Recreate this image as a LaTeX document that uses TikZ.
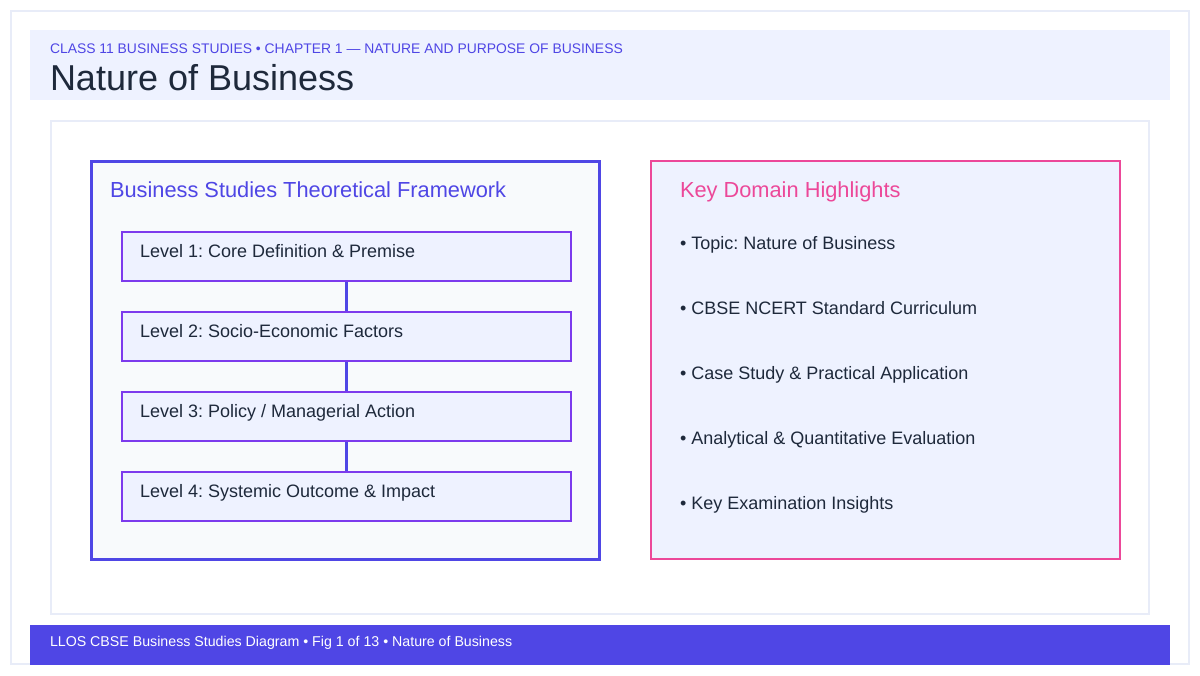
\documentclass[tikz,border=0pt]{standalone}
\usepackage{fontspec}
\setmainfont{Liberation Sans}
\frenchspacing
\definecolor{indigo}{HTML}{4F46E5}
\definecolor{violetb}{HTML}{7C3AED}
\definecolor{pinkb}{HTML}{EC4899}
\definecolor{ink}{HTML}{1E293B}
\definecolor{paleblue}{HTML}{EEF2FF}
\definecolor{slatebg}{HTML}{F8FAFC}
\definecolor{frame}{HTML}{E8ECF8}
\newcommand{\fsz}[1]{\fontsize{\dimexpr #1pt*3/4\relax}{\dimexpr #1pt*9/10\relax}\selectfont\frenchspacing}
\tikzset{
  x=0.75pt, y=-0.75pt,
  txt/.style={anchor=base west, inner sep=0pt, outer sep=0pt},
  levelbox/.style={draw=violetb, line width=1.5pt, fill=paleblue, rectangle, minimum width=449*0.75pt, minimum height=49*0.75pt, inner sep=0pt, anchor=north west},
  leveltxt/.style={txt, text=ink, font=\fsz{18}},
  bullettxt/.style={txt, text=ink, font=\fsz{18}},
  link/.style={draw=indigo, line width=2.25pt},
}
\begin{document}
\begin{tikzpicture}
\useasboundingbox (0,0) rectangle (1200,675);
\fill[white] (0,0) rectangle (1200,675);
\draw[frame, line width=1.5pt] (11,11) rectangle (1189,664);
% header
\fill[paleblue] (30,30) rectangle (1170,100);
\node[txt, text=indigo, font=\fsz{13.9}] (sub) at (50,53) {CLASS 11 BUSINESS STUDIES • CHAPTER 1 — NATURE AND PURPOSE OF BUSINESS};
\node[txt, text=ink, font=\fsz{36}] (title) at (50,90) {Nature of Business};
% content frame
\draw[frame, line width=1.5pt, fill=white] (51,121) rectangle (1149,614);
% left panel
\draw[indigo, line width=2.25pt, fill=slatebg] (91,161) rectangle (599,559);
\node[txt, text=indigo, font=\fsz{21.8}] (lt) at (110,197) {Business Studies Theoretical Framework};
\node[levelbox] (l1) at (121,231) {};
\node[levelbox] (l2) at (121,311) {};
\node[levelbox] (l3) at (121,391) {};
\node[levelbox] (l4) at (121,471) {};
\node[leveltxt] (t1) at (140,257) {Level 1: Core Definition \& Premise};
\node[leveltxt] (t2) at (140,337) {Level 2: Socio-Economic Factors};
\node[leveltxt] (t3) at (140,417) {Level 3: Policy / Managerial Action};
\node[leveltxt] (t4) at (140,497) {Level 4: Systemic Outcome \& Impact};
\draw[link] (l1.south) -- (l2.north);
\draw[link] (l2.south) -- (l3.north);
\draw[link] (l3.south) -- (l4.north);
% right panel
\draw[pinkb, line width=1.5pt, fill=paleblue] (651,161) rectangle (1120,559);
\node[txt, text=pinkb, font=\fsz{21.8}] (rt) at (680,197) {Key Domain Highlights};
\node[bullettxt] (b1) at (680,249) {• Topic: Nature of Business};
\node[bullettxt] (b2) at (680,314) {• CBSE NCERT Standard Curriculum};
\node[bullettxt] (b3) at (680,379) {• Case Study \& Practical Application};
\node[bullettxt] (b4) at (680,444) {• Analytical \& Quantitative Evaluation};
\node[bullettxt] (b5) at (680,509) {• Key Examination Insights};
% footer
\fill[indigo] (30,625) rectangle (1170,665);
\node[txt, text=white, font=\fsz{14.2}] (foot) at (50,646) {LLOS CBSE Business Studies Diagram • Fig 1 of 13 • Nature of Business};
\end{tikzpicture}
\end{document}
